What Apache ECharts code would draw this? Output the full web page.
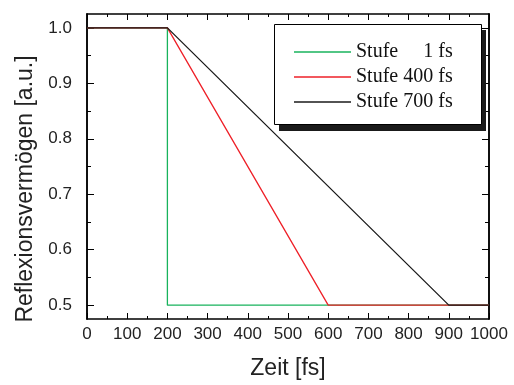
<!DOCTYPE html>
<html>
<head>
<meta charset="utf-8">
<script src="https://cdn.jsdelivr.net/npm/echarts@6/dist/echarts.min.js"></script>
<style>
  html, body { margin: 0; padding: 0; background: #fff; }
  #chart { width: 514px; height: 385px; }
</style>
</head>
<body>
<div id="chart"></div>
<script>
// Reflectivity step profiles: time [fs] and reflectivity [a.u.] per series
const seriesNames = ['Stufe     1 fs', 'Stufe 400 fs', 'Stufe 700 fs'];
const step1Time = [0, 200, 200, 1000];
const step1Refl = [1.0, 1.0, 0.5, 0.5];
const step400Time = [0, 200, 600, 1000];
const step400Refl = [1.0, 1.0, 0.5, 0.5];
const step700Time = [0, 200, 900, 1000];
const step700Refl = [1.0, 1.0, 0.5, 0.5];

// Axis ticks
const yMajorTicks = [0.5, 0.6, 0.7, 0.8, 0.9, 1.0];
const yMinorTicks = [0.55, 0.65, 0.75, 0.85, 0.95];

const pairs = (xs, ys) => xs.map((x, i) => [x, ys[i]]);

const labelFont = 'Liberation Sans, Arial, sans-serif';
const frame = { show: true, onZero: false, lineStyle: { color: '#000', width: 1.5 } };

function xAxisDef(position, withLabels) {
  return {
    type: 'value', position: position, min: 0, max: 1000, interval: 100,
    axisLine: frame,
    axisTick: { show: true, inside: true, length: 6, lineStyle: { color: '#000', width: 1 } },
    minorTick: { show: true, splitNumber: 2, length: 3, lineStyle: { color: '#000', width: 1 } },
    axisLabel: { show: withLabels, margin: 7, fontSize: 17, fontFamily: labelFont, color: '#222',
                 formatter: v => String(v) },
    splitLine: { show: false },
    minorSplitLine: { show: false }
  };
}

function yAxisDef(position, ticks, tickLen, withLabels) {
  return {
    type: 'value', position: position, min: 0.475, max: 1.025,
    axisLine: frame,
    axisTick: { show: true, inside: true, length: tickLen, customValues: ticks,
                lineStyle: { color: '#000', width: 1 } },
    axisLabel: { show: withLabels, customValues: ticks, margin: 15, fontSize: 17,
                 fontFamily: labelFont, color: '#222',
                 formatter: v => v.toFixed(1) },
    splitLine: { show: false }
  };
}

const xBottom = xAxisDef('bottom', true);
xBottom.name = 'Zeit [fs]';
xBottom.nameLocation = 'middle';
xBottom.nameGap = 38;
xBottom.nameTextStyle = { fontSize: 23, fontFamily: labelFont, color: '#222' };

const lineSeries = (name, data, color) => ({
  name: name, type: 'line', data: data, symbol: 'none', showSymbol: false,
  xAxisIndex: 0, yAxisIndex: 0,
  lineStyle: { color: color, width: 1.3 }, itemStyle: { color: color },
  animation: false, z: 3
});

const chart = echarts.init(document.getElementById('chart'), null, { renderer: 'canvas' });
chart.setOption({
  animation: false,
  backgroundColor: '#fff',
  grid: { left: 87, right: 25, top: 14, bottom: 63, containLabel: false },
  xAxis: [xBottom, xAxisDef('top', false)],
  yAxis: [
    yAxisDef('left', yMajorTicks, 7, true),
    yAxisDef('left', yMinorTicks, 4, false),
    yAxisDef('right', yMajorTicks, 7, false),
    yAxisDef('right', yMinorTicks, 4, false)
  ],
  legend: {
    orient: 'vertical', left: 294, top: 42, padding: 0,
    icon: 'rect', itemWidth: 57, itemHeight: 1.4, itemGap: 5,
    textStyle: { fontFamily: 'Liberation Serif, Times New Roman, serif', fontSize: 20, color: '#111' },
    data: seriesNames,
    z: 10
  },
  graphic: [
    { type: 'rect', z: 8, silent: true,
      shape: { x: 279, y: 30, width: 207, height: 101 },
      style: { fill: '#1a1a1a' } },
    { type: 'rect', z: 9, silent: true,
      shape: { x: 274.5, y: 24.5, width: 207, height: 100 },
      style: { fill: '#fff', stroke: '#000', lineWidth: 1 } },
    { type: 'text', z: 9, silent: true,
      x: 26, y: 189, rotation: Math.PI / 2,
      style: { text: 'Reflexionsvermögen [a.u.]', font: '23px ' + labelFont,
               fill: '#222', textAlign: 'center', textVerticalAlign: 'middle' } }
  ],
  series: [
    lineSeries(seriesNames[0], pairs(step1Time, step1Refl), '#18b35c'),
    lineSeries(seriesNames[1], pairs(step400Time, step400Refl), '#ee2028'),
    lineSeries(seriesNames[2], pairs(step700Time, step700Refl), '#1a1a1a')
  ]
});
</script>
</body>
</html>
